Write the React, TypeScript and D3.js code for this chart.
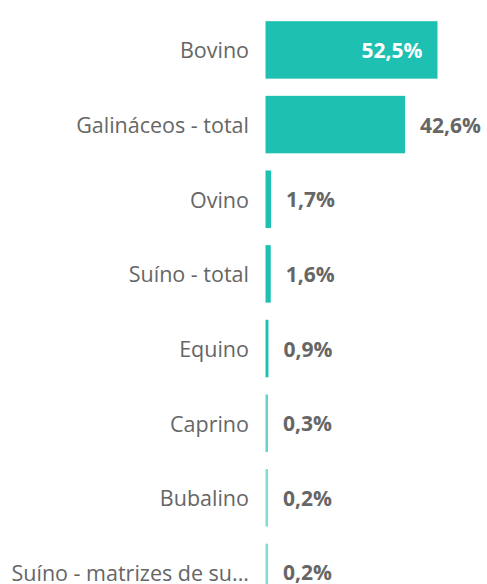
import React from "react";
import * as d3 from "d3";

const categories = [
  "Bovino",
  "Galináceos - total",
  "Ovino",
  "Suíno - total",
  "Equino",
  "Caprino",
  "Bubalino",
  "Suíno - matrizes de su...",
];
const values = [52.5, 42.6, 1.7, 1.6, 0.9, 0.3, 0.2, 0.2];
const valueLabels = ["52,5%", "42,6%", "1,7%", "1,6%", "0,9%", "0,3%", "0,2%", "0,2%"];

const W = 487;
const H = 584;
const FONT = "'Open Sans', 'Noto Sans', sans-serif";
const TEAL = "#1ec1b1";

export default function App() {
  const x0 = 265.5;
  const x = d3.scaleLinear().domain([0, 52.5]).range([x0, 437.5]);
  const y = d3
    .scaleBand<string>()
    .domain(categories)
    .range([12.6, 12.6 + 74.65 * categories.length])
    .paddingInner(0.23)
    .paddingOuter(0.115);

  return (
    <svg
      width={W}
      height={H}
      style={{ position: "absolute", left: 0, top: 0, background: "#fff" }}
    >
      {categories.map((c, i) => {
        const v = values[i];
        const yy = y(c)!;
        const bw = y.bandwidth();
        const xe = x(v);
        const w = xe - x0;
        const inside = i === 0;
        const cy = yy + bw / 2;
        const drawW = Math.max(w, 2.5);
        const op = Math.min(1, w / 2.5 + 0.3);
        return (
          <g key={c}>
            <text
              x={249}
              y={cy}
              textAnchor="end"
              dominantBaseline="central"
              fontFamily={FONT}
              fontSize={21.5}
              fill="#666666"
            >
              {c}
            </text>
            <rect x={x0} y={yy} width={drawW} height={bw} fill={TEAL} fillOpacity={op} />
            <text
              x={inside ? xe - 15 : x0 + drawW + 15}
              y={cy}
              textAnchor={inside ? "end" : "start"}
              dominantBaseline="central"
              fontFamily={FONT}
              fontSize={21}
              fontWeight={700}
              fill={inside ? "#ffffff" : "#666666"}
            >
              {valueLabels[i]}
            </text>
          </g>
        );
      })}
    </svg>
  );
}
